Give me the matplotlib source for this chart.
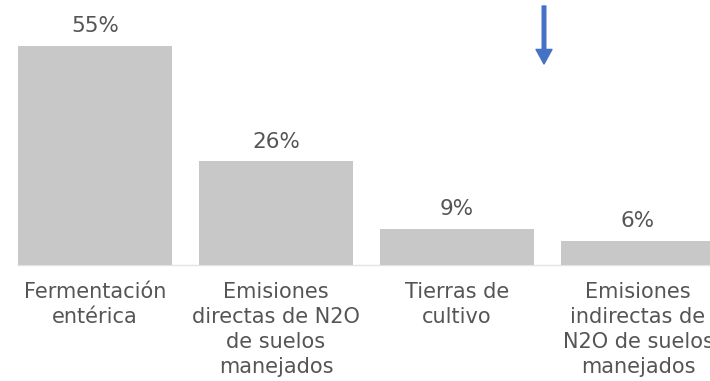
import matplotlib.pyplot as plt

categorias = ['Fermentación\nentérica',
              'Emisiones\ndirectas de N2O\nde suelos\nmanejados',
              'Tierras de\ncultivo',
              'Emisiones\nindirectas de\nN2O de suelos\nmanejados']
porcentajes = [55, 26, 9, 6]

plt.rcParams['font.family'] = ['DejaVu Sans']

fig = plt.figure(figsize=(7.1, 3.81), dpi=100)
ax = fig.add_axes([0, 0, 1, 1])

x = list(range(len(categorias)))
barras = ax.bar(x, porcentajes, width=0.85, color='#c8c8c8', zorder=2)

# línea base muy tenue
ax.plot([-0.425, 3.6], [0, 0], color='#e4e4e4', lw=1, zorder=1)

for xi, v in zip(x, porcentajes):
    ax.annotate('%d%%' % v, (xi, v), xytext=(0, 7), textcoords='offset points',
                ha='center', va='bottom', fontsize=15.5, color='#555555')

for xi, cat in zip(x, categorias):
    ax.text(xi, -4.3, cat, ha='center', va='top', fontsize=15,
            color='#555555', linespacing=1.3)

ax.set_xlim(-0.525, 3.398)
ax.set_ylim(-29.1, 66.5)
ax.axis('off')

# flecha azul
ax.annotate('', xy=(544 / 710, 1 - 64 / 381), xytext=(544 / 710, 1 - 6 / 381),
            xycoords='figure fraction', textcoords='figure fraction',
            arrowprops=dict(facecolor='#4472c4', edgecolor='#4472c4',
                            width=2.6, headwidth=11.5, headlength=10.5, shrink=0))

fig.savefig('out.png', dpi=100)
